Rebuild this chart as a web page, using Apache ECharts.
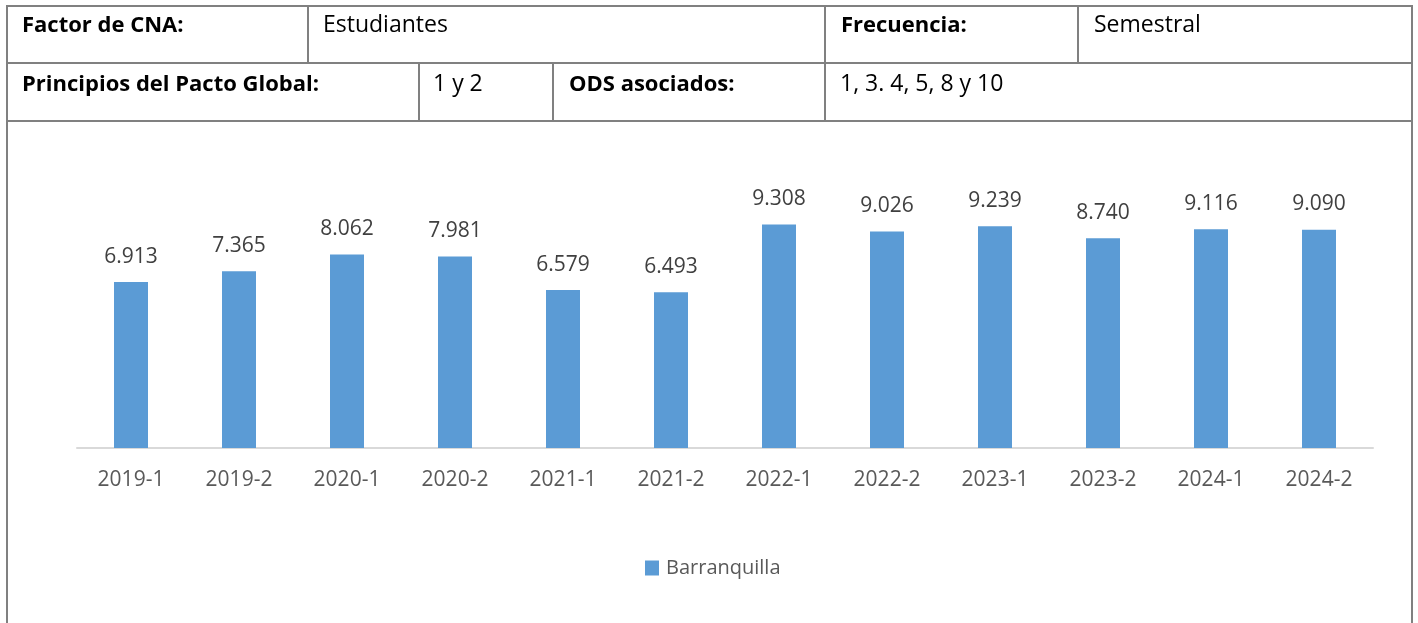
<!DOCTYPE html>
<html>
<head>
<meta charset="utf-8">
<script src="https://cdn.jsdelivr.net/npm/echarts@6/dist/echarts.min.js"></script>
<style>
  html, body { margin: 0; padding: 0; background: #fff; }
  body { width: 1418px; height: 623px; position: relative; overflow: hidden; font-family: "Open Sans", "Noto Sans", sans-serif; }
  #chart { position: absolute; left: 0; top: 0; width: 1418px; height: 623px; }
  .ln { position: absolute; background: #808080; }
  .tx { position: absolute; font-size: 23px; line-height: 1; color: #000; white-space: nowrap; }
  .b { font-weight: bold; font-size: 22px; }
</style>
</head>
<body>
<div id="chart"></div>
<!-- table borders -->
<div class="ln" style="left:6px;top:5px;width:1407px;height:2px"></div>
<div class="ln" style="left:6px;top:62px;width:1407px;height:2px"></div>
<div class="ln" style="left:6px;top:120px;width:1407px;height:2px"></div>
<div class="ln" style="left:6px;top:5px;width:2px;height:618px"></div>
<div class="ln" style="left:1411px;top:5px;width:2px;height:618px"></div>
<div class="ln" style="left:307px;top:5px;width:2px;height:59px"></div>
<div class="ln" style="left:824px;top:5px;width:2px;height:117px"></div>
<div class="ln" style="left:1077px;top:5px;width:2px;height:59px"></div>
<div class="ln" style="left:418px;top:63px;width:2px;height:59px"></div>
<div class="ln" style="left:552px;top:63px;width:2px;height:59px"></div>
<!-- table text -->
<div class="tx b" style="left:22px;top:12px">Factor de CNA:</div>
<div class="tx" style="left:323px;top:12px">Estudiantes</div>
<div class="tx b" style="left:841px;top:12px">Frecuencia:</div>
<div class="tx" style="left:1094px;top:12px">Semestral</div>
<div class="tx b" style="left:22px;top:71px">Principios del Pacto Global:</div>
<div class="tx" style="left:433px;top:71px">1 y 2</div>
<div class="tx b" style="left:569px;top:71px">ODS asociados:</div>
<div class="tx" style="left:840px;top:71px">1, 3. 4, 5, 8 y 10</div>
<script>
const categories = ["2019-1","2019-2","2020-1","2020-2","2021-1","2021-2","2022-1","2022-2","2023-1","2023-2","2024-1","2024-2"];
const barranquilla = [6913, 7365, 8062, 7981, 6579, 6493, 9308, 9026, 9239, 8740, 9116, 9090];
const seriesName = "Barranquilla";

function fmt(v) {
  return String(v).replace(/\B(?=(\d{3})+(?!\d))/g, ".");
}

const chart = echarts.init(document.getElementById('chart'), null, { renderer: 'canvas' });
chart.setOption({
  animation: false,
  textStyle: { fontFamily: '"Open Sans", "Noto Sans", sans-serif' },
  grid: { left: 77, right: 45, top: 208, bottom: 175, containLabel: false },
  legend: {
    data: [seriesName],
    left: 640,
    top: 553,
    itemWidth: 14,
    itemHeight: 15,
    icon: 'rect',
    textStyle: { fontSize: 20, color: '#595959', padding: [0, 0, 0, 2] }
  },
  xAxis: {
    type: 'category',
    data: categories,
    axisLine: { lineStyle: { color: '#d9d9d9', width: 2 } },
    axisTick: { show: false },
    axisLabel: { fontSize: 21, color: '#595959', margin: 22 }
  },
  yAxis: {
    type: 'value',
    min: 0,
    max: 10000,
    interval: 2000,
    show: false,
    splitLine: { show: false }
  },
  series: [{
    name: seriesName,
    type: 'bar',
    data: barranquilla,
    barWidth: 34,
    itemStyle: { color: '#5B9BD5' },
    label: {
      show: true,
      position: 'top',
      distance: 15,
      fontSize: 21,
      color: '#404040',
      formatter: p => fmt(p.value)
    }
  }]
});
</script>
</body>
</html>
